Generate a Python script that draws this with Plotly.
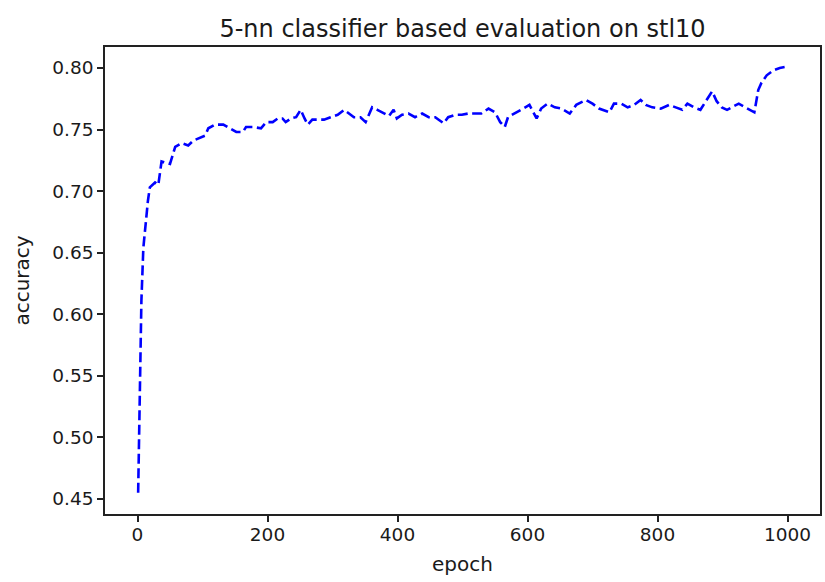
import plotly.graph_objects as go

epochs = [1, 3, 6, 9, 13, 16, 19, 27, 32, 37, 50, 58, 68, 78, 86, 96, 104, 109, 119, 132,
          142, 152, 162, 167, 178, 190, 198, 208, 216, 223, 228, 236, 244, 251, 257, 262,
          269, 277, 287, 297, 308, 318, 325, 333, 343, 351, 356, 361, 369, 379, 387, 394,
          399, 407, 417, 427, 438, 448, 458, 471, 478, 489, 499, 509, 519, 529, 540, 550,
          558, 565, 570, 580, 593, 603, 614, 621, 631, 642, 652, 665, 675, 690, 700, 710,
          726, 733, 744, 754, 764, 774, 782, 792, 805, 818, 828, 838, 846, 856, 866, 874,
          884, 891, 899, 907, 914, 925, 935, 943, 949, 952, 955, 960, 968, 978, 988, 999]
accuracy = [0.455, 0.530, 0.611, 0.654, 0.679, 0.692, 0.703, 0.707, 0.705, 0.724, 0.722, 0.736,
            0.739, 0.737, 0.741, 0.743, 0.745, 0.751, 0.754, 0.754, 0.751, 0.748, 0.748, 0.752,
            0.752, 0.751, 0.756, 0.756, 0.759, 0.759, 0.756, 0.759, 0.760, 0.766, 0.759, 0.754,
            0.758, 0.758, 0.758, 0.760, 0.762, 0.766, 0.763, 0.760, 0.760, 0.756, 0.762, 0.768,
            0.766, 0.763, 0.761, 0.766, 0.759, 0.762, 0.763, 0.760, 0.763, 0.760, 0.760, 0.755,
            0.760, 0.762, 0.762, 0.763, 0.763, 0.763, 0.767, 0.764, 0.756, 0.752, 0.760, 0.763,
            0.767, 0.770, 0.759, 0.767, 0.771, 0.768, 0.767, 0.763, 0.770, 0.774, 0.771, 0.767,
            0.764, 0.771, 0.771, 0.768, 0.770, 0.774, 0.770, 0.768, 0.767, 0.770, 0.768, 0.766,
            0.771, 0.768, 0.766, 0.773, 0.781, 0.773, 0.768, 0.766, 0.768, 0.771, 0.768, 0.766,
            0.764, 0.773, 0.782, 0.788, 0.794, 0.798, 0.800, 0.801]

x_ticks = [0, 200, 400, 600, 800, 1000]
y_ticks = [0.45, 0.50, 0.55, 0.60, 0.65, 0.70, 0.75, 0.80]

FONT = "DejaVu Sans"
TXT = "#1a1a1a"

fig = go.Figure()
fig.add_trace(go.Scatter(
    x=epochs, y=accuracy, mode="lines",
    line=dict(color="#0000ff", width=2.6, dash="10px,4.5px"),
    showlegend=False,
))

axis_common = dict(
    showline=True, linecolor="#222222", linewidth=1.5, mirror=True,
    ticks="outside", ticklen=6, tickwidth=1.5, tickcolor="#222222",
    showgrid=False, zeroline=False,
    tickfont=dict(family=FONT, size=18.5, color=TXT),
)

fig.update_layout(
    width=825, height=582,
    margin=dict(l=105, r=3, t=47, b=68),
    paper_bgcolor="white", plot_bgcolor="white",
    title=dict(text="5-nn classifier based evaluation on stl10",
               x=0.5, xref="paper", xanchor="center",
               y=1, yref="paper", yanchor="bottom", pad=dict(b=10),
               font=dict(family=FONT, size=24, color=TXT)),
    xaxis=dict(range=[-50, 1050], tickvals=x_ticks, ticklabelstandoff=-3,
               title=dict(text="epoch", font=dict(family=FONT, size=20, color=TXT), standoff=13),
               **axis_common),
    yaxis=dict(range=[0.4378, 0.817], tickvals=y_ticks, tickformat=".2f",
               title=dict(text="accuracy", font=dict(family=FONT, size=20, color=TXT), standoff=17),
               **axis_common),
)

fig.write_html("out.html")
